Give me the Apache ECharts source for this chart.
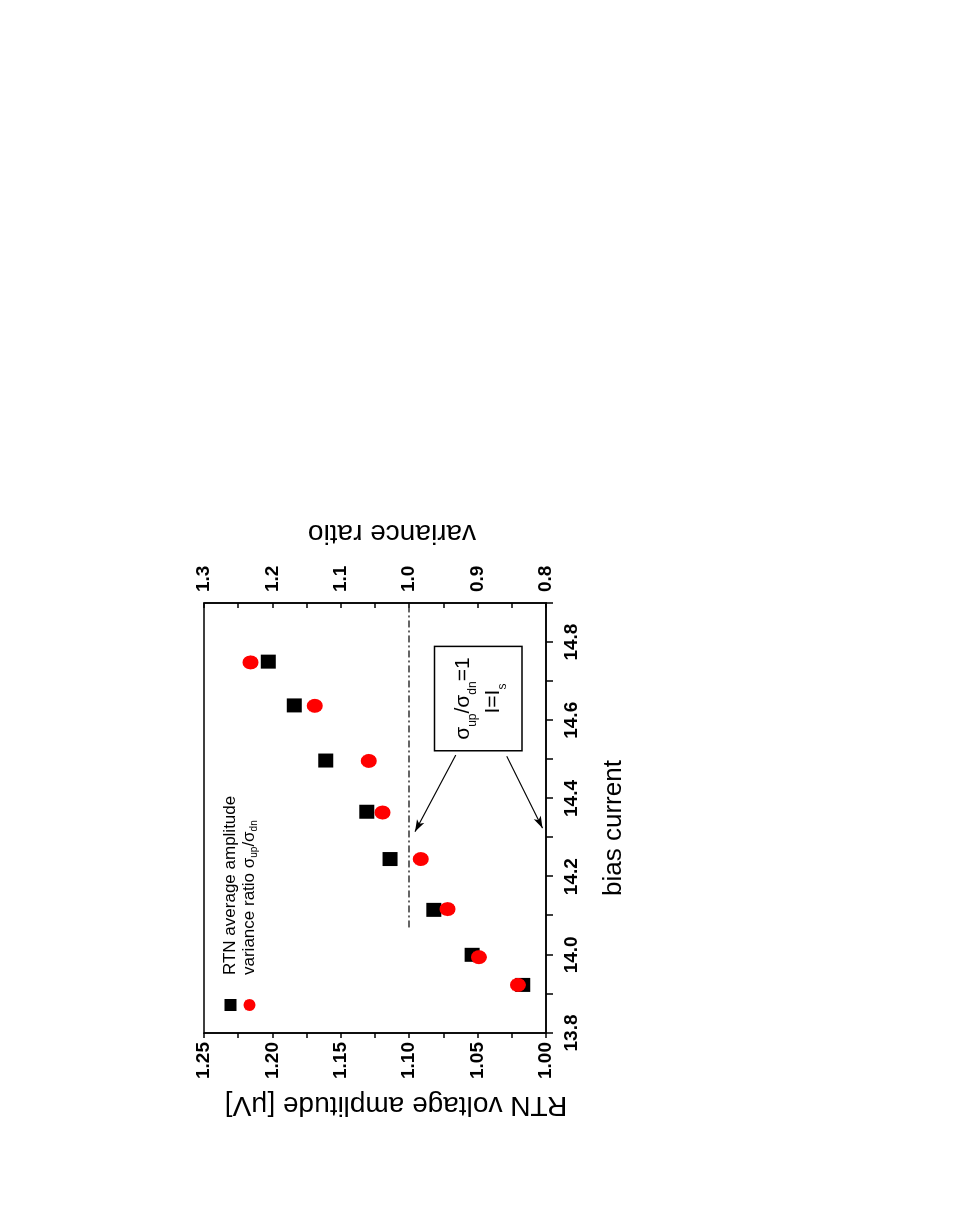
<!DOCTYPE html>
<html>
<head>
<meta charset="utf-8">
<script src="https://cdn.jsdelivr.net/npm/echarts@6/dist/echarts.min.js"></script>
<style>
html, body { margin: 0; padding: 0; width: 977px; height: 1232px; overflow: hidden; background: #fff; }
/* the figure is drawn upright, then turned a quarter turn left like the scan */
#chart { position: absolute; left: 0; top: 0; width: 1232px; height: 977px;
  transform-origin: 0 0; transform: translate(0px, 1232px) rotate(-90deg); }
</style>
</head>
<body>
<div id="chart"></div>
<script>
// bias current (x) for both series
const biasAmp   = [13.923, 14.000, 14.115, 14.245, 14.366, 14.497, 14.638, 14.750]
const amplitude = [1.017, 1.054, 1.082, 1.114, 1.131, 1.161, 1.184, 1.203]   // μV, left axis
const biasVar   = [13.923, 13.994, 14.117, 14.245, 14.364, 14.496, 14.637, 14.748]
const varRatio  = [0.841, 0.898, 0.944, 0.983, 1.039, 1.059, 1.138, 1.232]    // σup/σdn, right axis

// annotations, in data units (bias, variance ratio)
const unityLine = [[14.07, 1.0], [14.9, 1.0]]
const arrowA = [[14.511, 0.932], [14.315, 0.9915]]
const arrowB = [[14.508, 0.8575], [14.324, 0.805]]
const noteBox = [[14.522, 0.963], [14.789, 0.835]]

const FONT = '"Liberation Sans", Arial, sans-serif'
const tickLabel = { color: '#000', fontFamily: FONT, fontWeight: 'bold', fontSize: 19 }
const titleStyle = { color: '#000', fontFamily: FONT, fontSize: 28 }
const lineBlack = { lineStyle: { color: '#000', width: 1.5 } }

const chart = echarts.init(document.getElementById('chart'))
chart.setOption({
  animation: false,
  backgroundColor: '#fff',
  grid: { left: 199, right: 603, top: 204, bottom: 431, show: true,
    borderColor: '#000', borderWidth: 1.5, backgroundColor: 'transparent' },
  legend: {
    orient: 'vertical', left: 216, top: 217, itemGap: 2, itemWidth: 12, itemHeight: 12,
    selectedMode: false,
    data: [{ name: 'RTN average amplitude', icon: 'rect' },
           { name: 'variance ratio', icon: 'circle' }],
    formatter: (n) => n === 'variance ratio'
      ? '{t|variance ratio σ}{s|up}{t|/σ}{s|dn}' : '{t|' + n + '}',
    textStyle: {
      padding: [0, 0, 0, 19],
      rich: {
        t: { fontFamily: FONT, fontSize: 17, color: '#000', lineHeight: 20 },
        s: { fontFamily: FONT, fontSize: 10, color: '#000', lineHeight: 10, verticalAlign: 'bottom' },
      },
    },
  },
  xAxis: {
    type: 'value', min: 13.8, max: 14.9, interval: 0.1,
    name: 'bias current', nameLocation: 'middle', nameGap: 55,
    nameTextStyle: Object.assign({}, titleStyle, { fontSize: 26, padding: [0, 20, 0, 0] }),
    axisLine: lineBlack, splitLine: { show: false },
    axisTick: { length: 7, lineStyle: { color: '#000', width: 1.5 } },
    axisLabel: Object.assign({ margin: 16,
      formatter: (v) => Math.round(v * 10) % 2 === 0 ? v.toFixed(1) : '' }, tickLabel),
  },
  yAxis: [{
    type: 'value', min: 1.0, max: 1.25, interval: 0.025, position: 'left',
    name: 'RTN voltage amplitude [μV]', nameLocation: 'middle', nameGap: 58, nameRotate: 90,
    nameTextStyle: Object.assign({ padding: [0, 42, 0, 0] }, titleStyle),
    axisLine: lineBlack, splitLine: { show: false },
    axisTick: { length: 5, lineStyle: { color: '#000', width: 1.5 } },
    axisLabel: Object.assign({ margin: 9,
      formatter: (v) => Math.round(v * 1000) % 50 === 0 ? v.toFixed(2) : '' }, tickLabel),
  }, {
    type: 'value', min: 0.8, max: 1.3, interval: 0.05, position: 'right',
    name: 'variance ratio', nameLocation: 'middle', nameGap: 56, nameRotate: 90,
    nameTextStyle: Object.assign({ padding: [0, 34, 0, 0] }, titleStyle),
    axisLine: lineBlack, splitLine: { show: false },
    axisTick: { inside: true, length: 5, lineStyle: { color: '#000', width: 1.5 } },
    axisLabel: Object.assign({ margin: 11,
      formatter: (v) => Math.round(v * 100) % 10 === 0 ? v.toFixed(1) : '' }, tickLabel),
  }],
  series: [{
    name: 'RTN average amplitude', type: 'scatter', yAxisIndex: 0,
    symbol: 'rect', symbolSize: [14, 15], itemStyle: { color: '#000', opacity: 1 },
    data: biasAmp.map((b, i) => [b, amplitude[i]]),
    z: 3,
  }, {
    name: 'variance ratio', type: 'scatter', yAxisIndex: 1,
    symbol: 'circle', symbolSize: [14, 16], itemStyle: { color: '#ff0000', opacity: 1 },
    data: biasVar.map((b, i) => [b, varRatio[i]]),
    z: 4,
    markLine: {
      silent: true, symbol: ['none', 'none'], label: { show: false },
      lineStyle: { color: '#000', width: 1.2, type: 'solid' },
      data: [
        [{ coord: unityLine[0], lineStyle: { color: '#333', width: 1.5, type: [7, 3, 2, 3] } },
         { coord: unityLine[1] }],
        [{ coord: arrowA[0] }, { coord: arrowA[1], symbol: 'arrow', symbolSize: [6, 12] }],
        [{ coord: arrowB[0] }, { coord: arrowB[1], symbol: 'arrow', symbolSize: [6, 12] }],
      ],
    },
    markArea: {
      silent: true,
      itemStyle: { color: 'rgba(0,0,0,0)', borderColor: '#000', borderWidth: 1.5 },
      label: {
        show: true, position: 'inside',
        formatter: '{m|σ}{b|up}{m|/σ}{b|dn}{m|=1}\n{m|I=I}{b|s}',
        rich: {
          m: { fontFamily: FONT, fontSize: 21, color: '#000', lineHeight: 30 },
          b: { fontFamily: FONT, fontSize: 12, color: '#000', lineHeight: 12, verticalAlign: 'bottom' },
        },
      },
      data: [[{ coord: noteBox[0] }, { coord: noteBox[1] }]],
    },
  }],
})
</script>
</body>
</html>
